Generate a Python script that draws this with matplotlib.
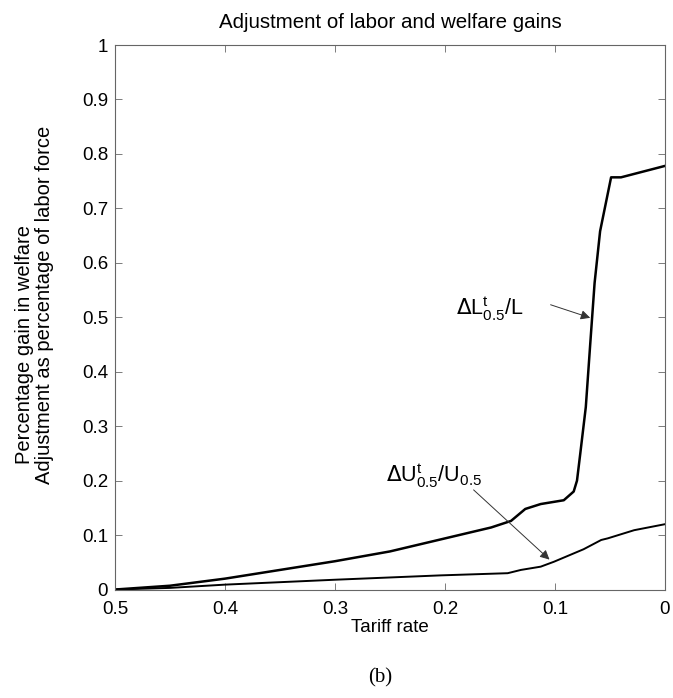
import matplotlib
matplotlib.use("Agg")
import matplotlib.pyplot as plt

plt.rcParams["font.family"] = ["Liberation Sans", "DejaVu Sans"]

# tariff rate (x) and the two adjustment curves
tariff_L = [0.5, 0.45, 0.4, 0.35, 0.3, 0.25, 0.204, 0.158, 0.140, 0.127, 0.113,
            0.092, 0.083, 0.080, 0.077, 0.072, 0.068, 0.064, 0.059, 0.049, 0.040, 0.0]
labor_gain = [0.0, 0.007, 0.020, 0.036, 0.052, 0.070, 0.092, 0.114, 0.126, 0.148, 0.157,
              0.164, 0.180, 0.200, 0.250, 0.335, 0.450, 0.563, 0.658, 0.757, 0.757, 0.778]

tariff_U = [0.5, 0.45, 0.4, 0.3, 0.204, 0.143, 0.131, 0.113, 0.101, 0.074,
            0.058, 0.052, 0.028, 0.0]
welfare_gain = [0.0, 0.003, 0.009, 0.018, 0.026, 0.030, 0.036, 0.042, 0.051, 0.074,
                0.091, 0.094, 0.109, 0.120]

x_ticks = [0.5, 0.4, 0.3, 0.2, 0.1, 0.0]
x_ticklabels = ["0.5", "0.4", "0.3", "0.2", "0.1", "0"]
y_ticks = [0, 0.1, 0.2, 0.3, 0.4, 0.5, 0.6, 0.7, 0.8, 0.9, 1.0]
y_ticklabels = ["0", "0.1", "0.2", "0.3", "0.4", "0.5", "0.6", "0.7", "0.8", "0.9", "1"]

fig = plt.figure(figsize=(6.73, 6.98), dpi=100)
ax = fig.add_axes([0.1709, 0.1554, 0.8172, 0.7801])

ax.plot(tariff_L, labor_gain, color="black", lw=1.8)
ax.plot(tariff_U, welfare_gain, color="black", lw=1.4)

ax.set_xlim(0.5, 0.0)
ax.set_ylim(0, 1)
ax.set_xticks(x_ticks)
ax.set_xticklabels(x_ticklabels)
ax.set_yticks(y_ticks)
ax.set_yticklabels(y_ticklabels)
ax.tick_params(direction="in", length=5, width=0.6, color="#666666",
               labelsize=13.5, top=True, right=True)
ax.tick_params(axis="x", pad=8)
ax.tick_params(axis="y", pad=5)
for sp in ax.spines.values():
    sp.set_linewidth(0.8)
    sp.set_color("#666666")

ax.set_title("Adjustment of labor and welfare gains", fontsize=14.8, pad=12)
ax.set_xlabel("Tariff rate", fontsize=13.5, labelpad=1)

# two-line y label
fig.text(0.037, 0.506, "Percentage gain in welfare", rotation=90,
         fontsize=14.5, ha="center", va="center")
fig.text(0.066, 0.563, "Adjustment as percentage of labor force", rotation=90,
         fontsize=14.5, ha="center", va="center")

arrow = dict(arrowstyle="-|>", color="#333333", lw=0.7, mutation_scale=14,
             shrinkA=0, shrinkB=0)
ax.annotate("", xy=(0.068, 0.499), xytext=(0.104, 0.523), arrowprops=arrow)
ax.annotate("", xy=(0.105, 0.055), xytext=(0.174, 0.183), arrowprops=arrow)
ax.text(0.190, 0.505, r"$\Delta\mathregular{L^t_{0.5}/L}$", fontsize=15.5,
        ha="left", va="baseline")
ax.text(0.254, 0.198, r"$\Delta\mathregular{U^t_{0.5}/U_{0.5}}$", fontsize=15.5,
        ha="left", va="baseline")

fig.text(0.565, 0.022, "(b)", fontsize=15, family="Liberation Serif", ha="center")

fig.savefig("out.png", dpi=100)
